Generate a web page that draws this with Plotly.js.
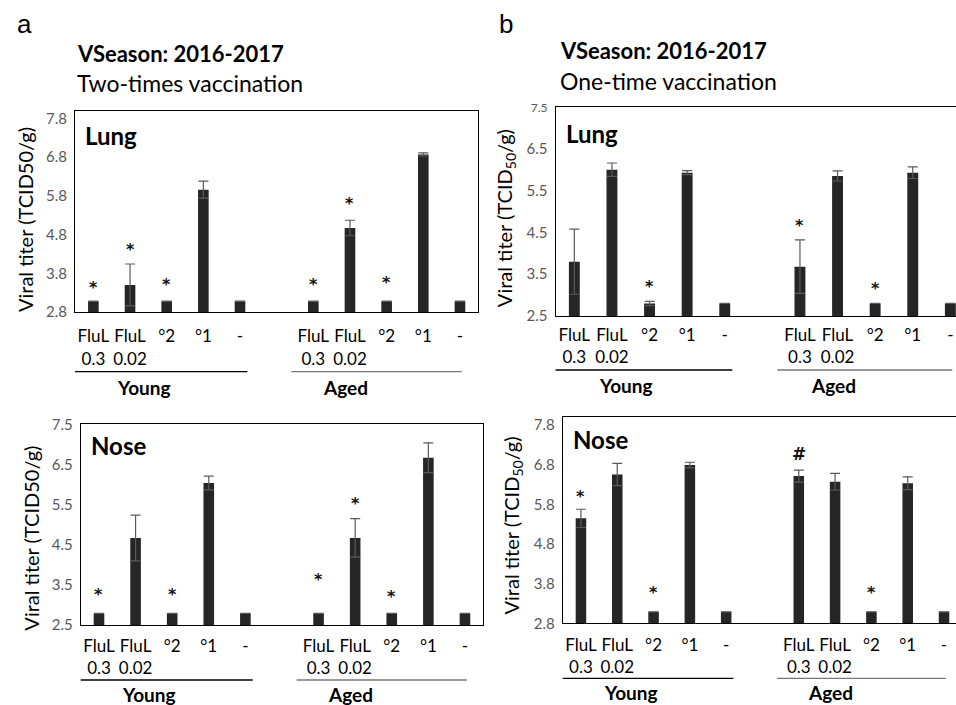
<!DOCTYPE html>
<html><head><meta charset="utf-8">
<script src="https://cdn.plot.ly/plotly-3.0.1.min.js"></script>
<style>html,body{margin:0;padding:0;background:#fff;} #chart{width:956px;height:705px;}</style>
</head><body><div id="chart"></div>
<script>
// ---- data ----
const positions = [0, 1, 2, 3, 4, 6, 7, 8, 9, 10];
const tickLabels = ['FluL<br>0.3', 'FluL<br>0.02', '°2', '°1', '-', 'FluL<br>0.3', 'FluL<br>0.02', '°2', '°1', '-'];
const groupNames = ['Young', 'Aged'];
const groupLineStart = [-0.5, 5.4];
const groupLineEnd = [4.2, 10.05];
const groupLabelPos = [1.37, 6.88];

// a: two-times vaccination
const aLung = [3.08, 3.5, 3.08, 5.96, 3.08, 3.08, 4.97, 3.08, 6.87, 3.08];
const aLungErr = [null, 0.54, null, 0.22, null, null, 0.2, null, 0.04, null];
const aLungMarkText = ['*', '*', '*', '', '', '*', '*', '*', '', ''];
const aLungMarkY = [3.5, 4.49, 3.58, null, null, 3.6, 5.68, 3.65, null, null];

const aNose = [2.79, 4.67, 2.79, 6.04, 2.79, 2.79, 4.67, 2.79, 6.67, 2.79];
const aNoseErr = [null, 0.57, null, 0.17, null, null, 0.48, null, 0.37, null];
const aNoseMarkText = ['*', '', '*', '', '', '*', '*', '*', '', ''];
const aNoseMarkY = [3.33, null, 3.33, null, null, 3.71, 5.6, 3.29, null, null];

// b: one-time vaccination
const bLung = [3.8, 6.0, 2.8, 5.93, 2.8, 3.68, 5.85, 2.8, 5.93, 2.8];
const bLungErr = [0.78, 0.16, 0.05, 0.05, null, 0.64, 0.12, null, 0.14, null];
const bLungMarkText = ['', '', '*', '', '', '*', '', '*', '', ''];
const bLungMarkY = [null, null, 3.28, null, null, 4.73, null, 3.24, null, null];

const bNose = [5.445, 6.55, 3.09, 6.79, 3.09, 6.51, 6.37, 3.09, 6.33, 3.09];
const bNoseErr = [0.23, 0.28, null, 0.07, null, 0.15, 0.21, null, 0.16, null];
const bNoseMarkText = ['*', '', '*', '', '', '#', '', '*', '', ''];
const bNoseMarkY = [6.07, null, 3.64, null, null, 7.08, null, 3.64, null, null];

const ticks28 = [2.8, 3.8, 4.8, 5.8, 6.8, 7.8];
const ticks25 = [2.5, 3.5, 4.5, 5.5, 6.5, 7.5];

// ---- layout config ----
const FONT = 'Lato, "Open Sans", sans-serif';
const MARKFONT = '"DejaVu Sans", sans-serif';
const panels = [
  {n: '', vals: aLung, err: aLungErr, mt: aLungMarkText, my: aLungMarkY, organ: 'Lung', sub: false,
   xdom: [0.0785, 0.5003], ydom: [0.5574, 0.843], xr: [-0.5, 10.5], yr: [2.8, 8.0], yt: ticks28,
   box: true, lineOff: -59.5, labOff: -75, ytitleY: 0.457, organShift: -8, smallTop: false, xStand: 9},
  {n: '2', vals: aNose, err: aNoseErr, mt: aNoseMarkText, my: aNoseMarkY, organ: 'Nose', sub: false,
   xdom: [0.0844, 0.5055], ydom: [0.1135, 0.3979], xr: [-0.5, 10.5], yr: [2.5, 7.5], yt: ticks25,
   box: true, lineOff: -55, labOff: -70, ytitleY: 0.434, organShift: -5, smallTop: false, xStand: 6},
  {n: '3', vals: bLung, err: bLungErr, mt: bLungMarkText, my: bLungMarkY, organ: 'Lung', sub: true,
   xdom: [0.5811, 1.0], ydom: [0.5518, 0.8482], xr: [-0.5, 10.15], yr: [2.5, 7.5], yt: ticks25,
   box: false, lineOff: -54, labOff: -70, ytitleY: 0.466, organShift: -10, smallTop: true, xStand: 4},
  {n: '4', vals: bNose, err: bNoseErr, mt: bNoseMarkText, my: bNoseMarkY, organ: 'Nose', sub: true,
   xdom: [0.5887, 1.0], ydom: [0.1159, 0.4085], xr: [-0.5, 10.33], yr: [2.8, 8.0], yt: ticks28,
   box: false, lineOff: -55, labOff: -69, ytitleY: 0.473, organShift: -6, smallTop: false, xStand: 6}
];

const traces = [];
const layout = {
  width: 956, height: 705, margin: {l: 0, r: 0, t: 0, b: 0},
  paper_bgcolor: '#fff', plot_bgcolor: '#fff', showlegend: false,
  font: {family: FONT, color: '#000'},
  annotations: [], shapes: []
};

panels.forEach(p => {
  const xa = 'x' + p.n, ya = 'y' + p.n;
  traces.push({
    type: 'bar', x: positions, y: p.vals, width: 0.29, xaxis: xa, yaxis: ya,
    marker: {color: '#262626', line: {width: 0}},
    error_y: {type: 'data', array: p.err, visible: true, color: '#5a5a5a', thickness: 1.2, width: 5},
    hoverinfo: 'skip'
  });
  layout['xaxis' + p.n] = {
    domain: p.xdom, range: p.xr, anchor: ya, tickmode: 'array', tickvals: positions, ticktext: tickLabels,
    showline: true, mirror: true, linecolor: '#000', linewidth: 1, ticks: '', showgrid: false, zeroline: false,
    tickfont: {family: FONT, size: 17, color: '#000'}, ticklabelstandoff: p.xStand, fixedrange: true
  };
  layout['yaxis' + p.n] = {
    domain: p.ydom, range: p.yr, anchor: xa, tickmode: 'array', tickvals: p.yt,
    ticktext: p.yt.map((v, i) => (p.smallTop && i === p.yt.length - 1)
      ? '<span style="font-size:12px">' + v.toFixed(1) + '</span>' : v.toFixed(1)),
    showline: true, mirror: p.box, linecolor: '#000', linewidth: 1, ticks: '', showgrid: false, zeroline: false,
    tickfont: {family: FONT, size: 15, color: '#595959'}, ticklabelstandoff: 4, fixedrange: true
  };
  // organ label
  layout.annotations.push({
    xref: xa + ' domain', yref: ya + ' domain', x: 0, y: 1, xanchor: 'left', yanchor: 'top',
    xshift: 8, yshift: p.organShift, showarrow: false, text: '<b>' + p.organ + '</b>',
    font: {family: FONT, size: 24, color: '#000'}
  });
  // y axis title
  layout.annotations.push({
    xref: xa + ' domain', yref: ya + ' domain', x: 0, y: p.ytitleY, xanchor: 'center', yanchor: 'middle',
    xshift: -50, textangle: -90, showarrow: false,
    text: p.sub ? 'Viral titer (TCID<sub>50</sub>/g)' : 'Viral titer (TCID50/g)',
    font: {family: FONT, size: 20, color: '#000'}
  });
  // significance marks
  positions.forEach((x, i) => {
    if (p.mt[i]) {
      layout.annotations.push({
        xref: xa, yref: ya, x: x, y: p.my[i], xanchor: 'center', yanchor: 'middle', showarrow: false,
        text: '<b>' + p.mt[i] + '</b>', yshift: p.mt[i] === '*' ? -3 : 0,
        font: {family: MARKFONT, size: p.mt[i] === '*' ? 16 : 17, color: '#111'}
      });
    }
  });
  // group lines & labels
  const span = p.xr[1] - p.xr[0];
  groupNames.forEach((g, k) => {
    layout.shapes.push({
      type: 'line', xref: xa + ' domain', yref: ya + ' domain', ysizemode: 'pixel', yanchor: 0,
      x0: (groupLineStart[k] - p.xr[0]) / span, x1: (groupLineEnd[k] - p.xr[0]) / span,
      y0: p.lineOff, y1: p.lineOff,
      line: {color: k === 0 ? '#000' : '#777', width: 1.3}
    });
    layout.annotations.push({
      xref: xa, yref: ya + ' domain', x: groupLabelPos[k], y: 0, yshift: p.labOff,
      xanchor: 'center', yanchor: 'middle', showarrow: false, text: '<b>' + g + '</b>',
      font: {family: FONT, size: 19, color: '#000'}
    });
  });
});

// panel letters and headings
const headings = [
  {letter: 'a', lx: 15, ly: 24, hx: 75, h1y: 53, h2y: 83, sub: 'Two-times vaccination'},
  {letter: 'b', lx: 497, ly: 24, hx: 558, h1y: 50.5, h2y: 80.5, sub: 'One-time vaccination'}
];
headings.forEach(h => {
  layout.annotations.push({xref: 'paper', yref: 'paper', x: h.lx / 956, y: 1 - h.ly / 705, xanchor: 'left', yanchor: 'middle',
    showarrow: false, text: h.letter, font: {family: '"Liberation Sans", Arial, sans-serif', size: 26, color: '#000'}});
  layout.annotations.push({xref: 'paper', yref: 'paper', x: h.hx / 956, y: 1 - h.h1y / 705, xanchor: 'left', yanchor: 'middle',
    showarrow: false, text: '<b>VSeason: 2016-2017</b>', font: {family: FONT, size: 22, color: '#000'}});
  layout.annotations.push({xref: 'paper', yref: 'paper', x: h.hx / 956, y: 1 - h.h2y / 705, xanchor: 'left', yanchor: 'middle',
    showarrow: false, text: h.sub, font: {family: FONT, size: 23, color: '#000'}});
});

Plotly.newPlot('chart', traces, layout, {staticPlot: true, displayModeBar: false});
</script>
</body></html>
